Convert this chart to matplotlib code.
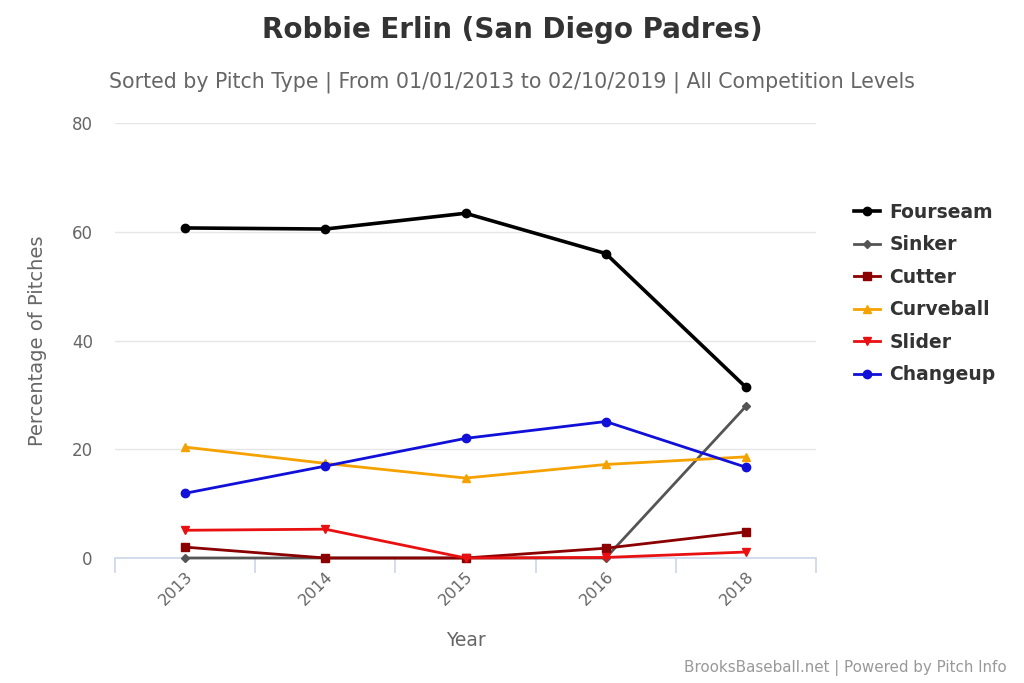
import matplotlib.pyplot as plt

# Pitch usage by year (percentage of pitches)
years = ['2013', '2014', '2015', '2016', '2018']
fourseam = [60.7, 60.5, 63.4, 56.0, 31.4]
sinker = [0.0, 0.0, 0.0, 0.0, 27.9]
cutter = [2.0, 0.0, 0.0, 1.8, 4.8]
curveball = [20.4, 17.4, 14.7, 17.2, 18.6]
slider = [5.1, 5.3, 0.0, 0.1, 1.1]
changeup = [11.9, 16.9, 22.0, 25.1, 16.7]

series = [
    ('Fourseam', fourseam, '#000000', 'o', 2.6),
    ('Sinker', sinker, '#555555', 'D', 2.0),
    ('Cutter', cutter, '#8b0000', 's', 2.0),
    ('Curveball', curveball, '#f5a200', '^', 2.0),
    ('Slider', slider, '#e81010', 'v', 2.0),
    ('Changeup', changeup, '#1010d8', 'o', 2.0),
]

fig = plt.figure(figsize=(10.24, 6.83), dpi=100)
ax = fig.add_axes([115 / 1024, 1 - 558 / 683, 701 / 1024, 435 / 683])

x = list(range(len(years)))
for name, vals, color, marker, lw in series:
    ms = 4.5 if marker == 'D' else 6
    ax.plot(x, vals, color=color, marker=marker, markersize=ms, linewidth=lw,
            label=name, clip_on=False, zorder=3)

ax.set_xlim(-0.5, 4.5)
ax.set_ylim(0, 80)
ax.set_yticks([0, 20, 40, 60, 80])
ax.grid(axis='y', color='#e6e6e6', linewidth=1)
ax.set_axisbelow(True)
for s in ['top', 'right', 'left']:
    ax.spines[s].set_visible(False)
ax.spines['bottom'].set_color('#ccd6eb')
ax.spines['bottom'].set_linewidth(1.2)

# ticks on category boundaries, labels at category centres
ax.set_xticks([i - 0.5 for i in range(len(years) + 1)])
ax.set_xticklabels([])
ax.tick_params(axis='x', which='major', length=11, color='#ccd6eb', width=1.2)
ax.set_xticks(x, minor=True)
ax.set_xticklabels(years, minor=True, rotation=45, ha='right', rotation_mode='anchor',
                   color='#666666', fontsize=11.5)
ax.tick_params(axis='x', which='minor', length=0, pad=8)
ax.tick_params(axis='y', length=0, labelcolor='#666666', labelsize=12, pad=16)

ax.set_xlabel('Year', color='#666666', fontsize=13.5, labelpad=16)
ax.set_ylabel('Percentage of Pitches', color='#666666', fontsize=14, labelpad=18)

fig.text(0.5, 1 - 30 / 683, 'Robbie Erlin (San Diego Padres)', ha='center', va='center',
         fontsize=20, fontweight='bold', color='#333333')
fig.text(0.5, 1 - 82 / 683,
         'Sorted by Pitch Type | From 01/01/2013 to 02/10/2019 | All Competition Levels',
         ha='center', va='center', fontsize=14.8, color='#666666')
fig.text(1007 / 1024, 1 - 668 / 683, 'BrooksBaseball.net | Powered by Pitch Info',
         ha='right', va='center', fontsize=10.9, color='#999999')

leg = fig.legend(loc='upper left', bbox_to_anchor=(837 / 1024, 1 - 186 / 683),
                 frameon=False, handlelength=1.4, handletextpad=0.5, labelspacing=0.72,
                 prop={'weight': 'bold', 'size': 13.5})
for t in leg.get_texts():
    t.set_color('#333333')

plt.savefig('out.png', dpi=100)
